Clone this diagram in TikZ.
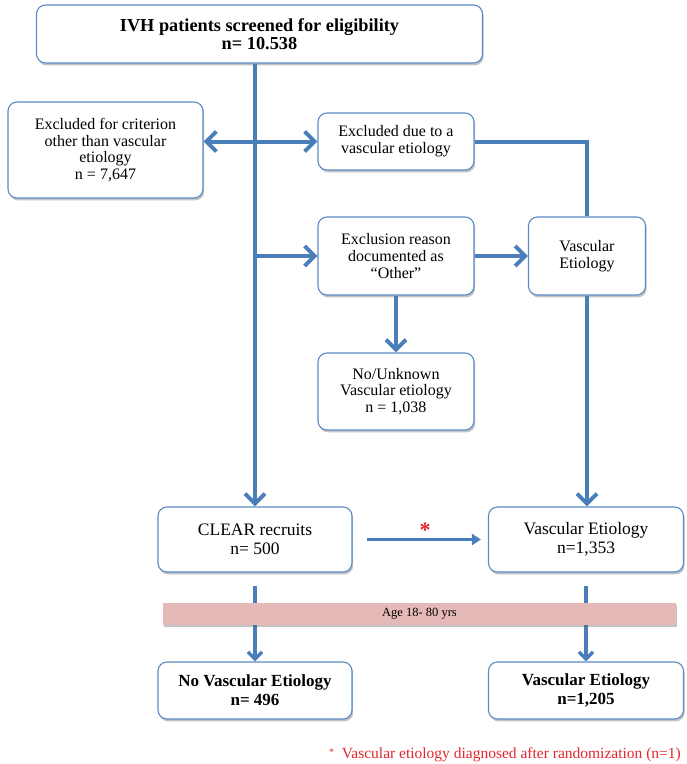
\documentclass[tikz,border=0pt]{standalone}
\usepackage{fontspec}
\setmainfont{Liberation Serif}
\usetikzlibrary{arrows.meta,shadows}
\definecolor{lineblue}{HTML}{4A7EBB}
\definecolor{boxblue}{HTML}{5B8BC6}
\definecolor{barpink}{HTML}{E5B9B8}
\definecolor{starred}{HTML}{E3262E}
\begin{document}
\begin{tikzpicture}[x=1pt,y=-1pt,
  box/.style={draw=boxblue, line width=1.1pt, rounded corners=9pt, fill=white,
    align=center, inner sep=0pt,
    drop shadow={shadow xshift=1.2pt, shadow yshift=-2.4pt, opacity=0.4, fill=black!60},
    font=\fontsize{16}{16.8}\selectfont},
  bigbox/.style={box, font=\fontsize{17.5}{19.5}\selectfont},
  boldbox/.style={box, font=\bfseries\fontsize{17}{19}\selectfont},
  conn/.style={draw=lineblue, line width=4pt},
  barb/.style={-{Straight Barb[length=10pt,width=20pt]}},
  smallbarb/.style={-{Straight Barb[length=7pt,width=14pt]}},
  dbarb/.style={{Straight Barb[length=10pt,width=20pt]}-{Straight Barb[length=10pt,width=20pt]}},
  agebar/.style={fill=barpink, inner sep=0pt, minimum width=513pt, minimum height=22pt,
    drop shadow={shadow xshift=1.2pt, shadow yshift=-2.4pt, opacity=0.4, fill=black!60},
    font=\fontsize{12.5}{13}\selectfont},
  note/.style={text=starred, inner sep=0pt}
]
\useasboundingbox (0,0) rectangle (687,764);

% boxes
\node[box, minimum width=446pt, minimum height=58pt, font=\bfseries\fontsize{18.3}{17.5}\selectfont] (top) at (259.5,34)
  {IVH patients screened for eligibility\\ n= 10.538};
\node[box, minimum width=195pt, minimum height=96pt] (left) at (105.5,150)
  {Excluded for criterion\\ other than vascular\\ etiology\\ n = 7,647};
\node[box, minimum width=156pt, minimum height=57pt] (exvasc) at (396,141.5)
  {Excluded due to a\\ vascular etiology};
\node[box, minimum width=156pt, minimum height=78pt] (exreason) at (396,256)
  {Exclusion reason\\ documented as\\ “Other”};
\node[box, minimum width=117pt, minimum height=78pt] (vasc) at (587,256)
  {Vascular\\ Etiology};
\node[box, minimum width=156pt, minimum height=77pt] (nounk) at (396,391.5)
  {No/Unknown\\ Vascular etiology\\ n = 1,038};
\node[bigbox, minimum width=194pt, minimum height=65pt] (clear) at (255,539.5)
  {CLEAR recruits\\ n= 500};
\node[bigbox, minimum width=195pt, minimum height=65pt] (vasc2) at (586,539.5)
  {Vascular Etiology\\ n=1,353};
\node[boldbox, minimum width=194pt, minimum height=57pt] (nove) at (255,690.5)
  {No Vascular Etiology\\ n= 496};
\node[boldbox, minimum width=195pt, minimum height=57pt] (vasc3) at (586,690.5)
  {Vascular Etiology\\ n=1,205};

% connectors
\draw[conn, barb] (clear.north |- top.south) -- (clear.north);
\draw[conn, dbarb] (left.east |- exvasc.west) -- (exvasc.west);
\draw[conn] (exvasc.east) -| (vasc.north);
\draw[conn, barb] (clear.north |- exreason.west) -- (exreason.west);
\draw[conn, barb] (exreason.east) -- (vasc.west);
\draw[conn, barb] (exreason.south) -- (nounk.north);
\draw[conn, barb] (vasc.south) -- (vasc.south |- vasc2.north);
\draw[conn, line width=3.2pt, -{Triangle[length=9pt,width=11pt]}, shorten <=14pt, shorten >=7pt]
  (clear.east) -- (vasc2.west);
\node[note, font=\bfseries\fontsize{22}{22}\selectfont] (star) at (425,530) {*};
\draw[conn, line width=3.5pt, smallbarb, shorten <=13pt] (clear.south) -- (nove.north);
\draw[conn, line width=3.5pt, smallbarb, shorten <=13pt] (vasc2.south) -- (vasc3.north);

\node[agebar] (bar) at (419.5,614) {Age 18- 80 yrs};

\node[note, anchor=east, font=\fontsize{15.5}{16}\selectfont] (foot) at (681,755)
  {\raisebox{3pt}{\fontsize{10}{10}\selectfont *}\ \ Vascular etiology diagnosed after randomization (n=1)};
\end{tikzpicture}
\end{document}
